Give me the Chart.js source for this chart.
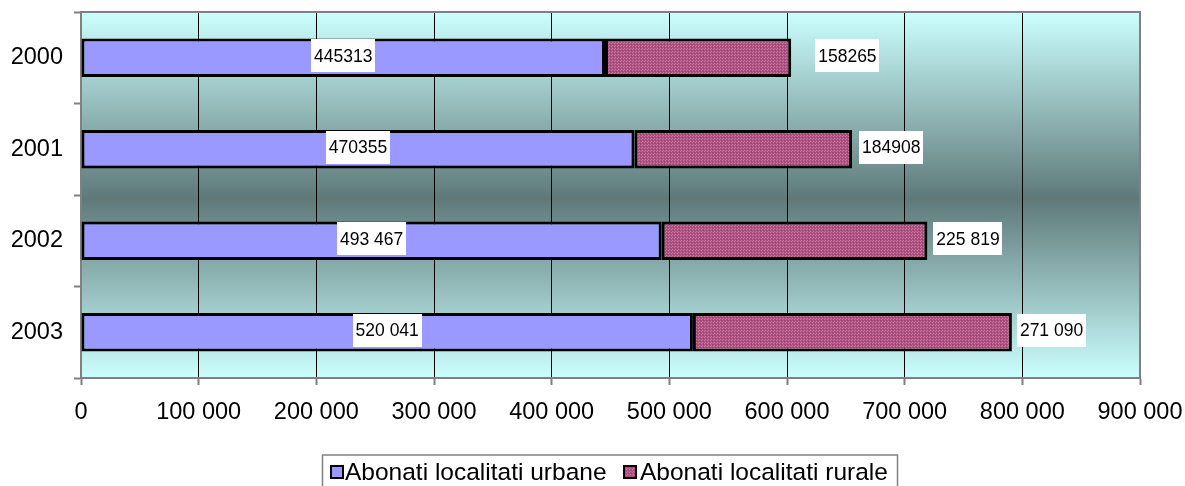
<!DOCTYPE html>
<html>
<head>
<meta charset="utf-8">
<script src="https://cdn.jsdelivr.net/npm/chart.js@4/dist/chart.umd.min.js"></script>
<style>
  html, body { margin: 0; padding: 0; background: #fff; }
  #wrap { width: 1185px; height: 486px; }
</style>
</head>
<body>
<div id="wrap"><canvas id="c" width="1185" height="486"></canvas></div>
<script>
const categories = ['2000', '2001', '2002', '2003'];
const urbanValues = [445313, 470355, 493467, 520041];
const ruralValues = [158265, 184908, 225819, 271090];
const urbanLabels = ['445313', '470355', '493 467', '520 041'];
const ruralLabels = ['158265', '184908', '225 819', '271 090'];
const seriesNames = ['Abonati localitati urbane', 'Abonati localitati rurale'];
const xMin = 0, xMax = 900000, xStep = 100000;

const FONT = "'Liberation Sans', Arial, sans-serif";

function makePattern() {
  const p = document.createElement('canvas');
  p.width = 3; p.height = 3;
  const g = p.getContext('2d');
  g.fillStyle = '#AE5080';
  g.fillRect(0, 0, 3, 3);
  g.fillStyle = '#C877A0';
  g.fillRect(0, 0, 1, 1);
  g.fillRect(2, 1, 1, 1);
  g.fillStyle = '#9C446F';
  g.fillRect(1, 2, 1, 1);
  return document.createElement('canvas').getContext('2d').createPattern(p, 'repeat');
}
const ruralFill = makePattern();
const urbanFill = '#9999FF';

function fmt(v) {
  return String(v).replace(/\B(?=(\d{3})+(?!\d))/g, ' ');
}

const bgPlugin = {
  id: 'bg',
  beforeDraw(chart) {
    const { ctx, chartArea: a } = chart;
    ctx.save();
    ctx.fillStyle = '#ffffff';
    ctx.fillRect(0, 0, chart.width, chart.height);
    const g = ctx.createLinearGradient(0, a.top, 0, a.bottom);
    g.addColorStop(0, '#CCFFFF');
    g.addColorStop(0.51, '#5F7979');
    g.addColorStop(1, '#CCFFFF');
    ctx.fillStyle = g;
    ctx.fillRect(a.left, a.top, a.right - a.left, a.bottom - a.top);
    ctx.restore();
  },
  afterDraw(chart) {
    const { ctx, chartArea: a } = chart;
    ctx.save();
    ctx.strokeStyle = '#808080';
    ctx.lineWidth = 2;
    ctx.beginPath();
    ctx.moveTo(a.left, a.top);
    ctx.lineTo(a.right, a.top);
    ctx.lineTo(a.right, a.bottom);
    ctx.stroke();
    ctx.restore();
  }
};

function drawBoxLabel(ctx, text, cx, cy, alignLeft) {
  ctx.font = '17.5px ' + FONT;
  const w = ctx.measureText(text).width + 6;
  const h = 33;
  const left = alignLeft ? cx : cx - w / 2;
  ctx.fillStyle = '#ffffff';
  ctx.fillRect(Math.round(left), Math.round(cy - h / 2), Math.round(w), h);
  ctx.fillStyle = '#000000';
  ctx.textBaseline = 'middle';
  ctx.textAlign = 'left';
  ctx.fillText(text, left + 3, cy + 1);
}

const labelPlugin = {
  id: 'boxLabels',
  afterDatasetsDraw(chart) {
    const ctx = chart.ctx;
    ctx.save();
    const m0 = chart.getDatasetMeta(0);
    const m1 = chart.getDatasetMeta(1);
    const gaps = [24, 7, 6, 5];
    m0.data.forEach((bar, i) => {
      drawBoxLabel(ctx, urbanLabels[i], (bar.x + bar.base) / 2, bar.y - 2, false);
    });
    m1.data.forEach((bar, i) => {
      drawBoxLabel(ctx, ruralLabels[i], bar.x + gaps[i], bar.y - 2, true);
    });
    ctx.restore();
  }
};

const legendPlugin = {
  id: 'customLegend',
  afterDraw(chart) {
    const ctx = chart.ctx;
    ctx.save();
    ctx.strokeStyle = '#808080';
    ctx.lineWidth = 1.5;
    ctx.fillStyle = '#ffffff';
    ctx.fillRect(322.5, 455, 575, 40);
    ctx.strokeRect(322.5, 455, 575, 40);
    const items = [
      { sq: 331, tx: 345, fill: urbanFill, text: seriesNames[0] },
      { sq: 624, tx: 640, fill: ruralFill, text: seriesNames[1] }
    ];
    ctx.font = '24.5px ' + FONT;
    ctx.textBaseline = 'middle';
    ctx.textAlign = 'left';
    items.forEach(it => {
      ctx.fillStyle = it.fill;
      ctx.fillRect(it.sq, 466, 12, 12);
      ctx.strokeStyle = '#000';
      ctx.lineWidth = 2;
      ctx.strokeRect(it.sq, 466, 12, 12);
      ctx.fillStyle = '#000';
      ctx.fillText(it.text, it.tx, 473);
    });
    ctx.restore();
  }
};

new Chart(document.getElementById('c'), {
  type: 'bar',
  data: {
    labels: categories,
    datasets: [
      {
        label: seriesNames[0],
        data: urbanValues,
        backgroundColor: urbanFill,
        borderColor: '#000000',
        borderWidth: 3,
        borderSkipped: false,
        barPercentage: 0.42,
        categoryPercentage: 1.0
      },
      {
        label: seriesNames[1],
        data: ruralValues,
        backgroundColor: ruralFill,
        borderColor: '#000000',
        borderWidth: 3,
        borderSkipped: false,
        barPercentage: 0.42,
        categoryPercentage: 1.0
      }
    ]
  },
  options: {
    indexAxis: 'y',
    responsive: false,
    animation: false,
    devicePixelRatio: 1,
    layout: { padding: { top: 12, right: 45, left: 0, bottom: 0 } },
    plugins: {
      legend: { display: false },
      tooltip: { enabled: false }
    },
    scales: {
      x: {
        stacked: true,
        min: xMin,
        max: xMax,
        afterFit(s) { s.height = 108; s.paddingLeft = 0; s.paddingRight = 0; s.paddingTop = 0; s.paddingBottom = 0; },
        ticks: {
          stepSize: xStep,
          color: '#000',
          font: { family: FONT, size: 23.5 },
          padding: 13,
          maxRotation: 0,
          callback: v => fmt(v)
        },
        grid: { color: '#000000', lineWidth: 1, tickColor: '#808080', tickLength: 7, tickWidth: 2 },
        border: { color: '#808080', width: 2 }
      },
      y: {
        stacked: true,
        afterFit(s) { s.width = 81; s.paddingLeft = 0; s.paddingRight = 0; s.paddingTop = 0; s.paddingBottom = 0; },
        ticks: {
          color: '#000',
          font: { family: FONT, size: 23.5 },
          padding: 11
        },
        grid: { drawOnChartArea: false, offset: true, tickColor: '#808080', tickLength: 7, tickWidth: 2 },
        border: { color: '#808080', width: 2 }
      }
    }
  },
  plugins: [bgPlugin, labelPlugin, legendPlugin]
});
</script>
</body>
</html>
